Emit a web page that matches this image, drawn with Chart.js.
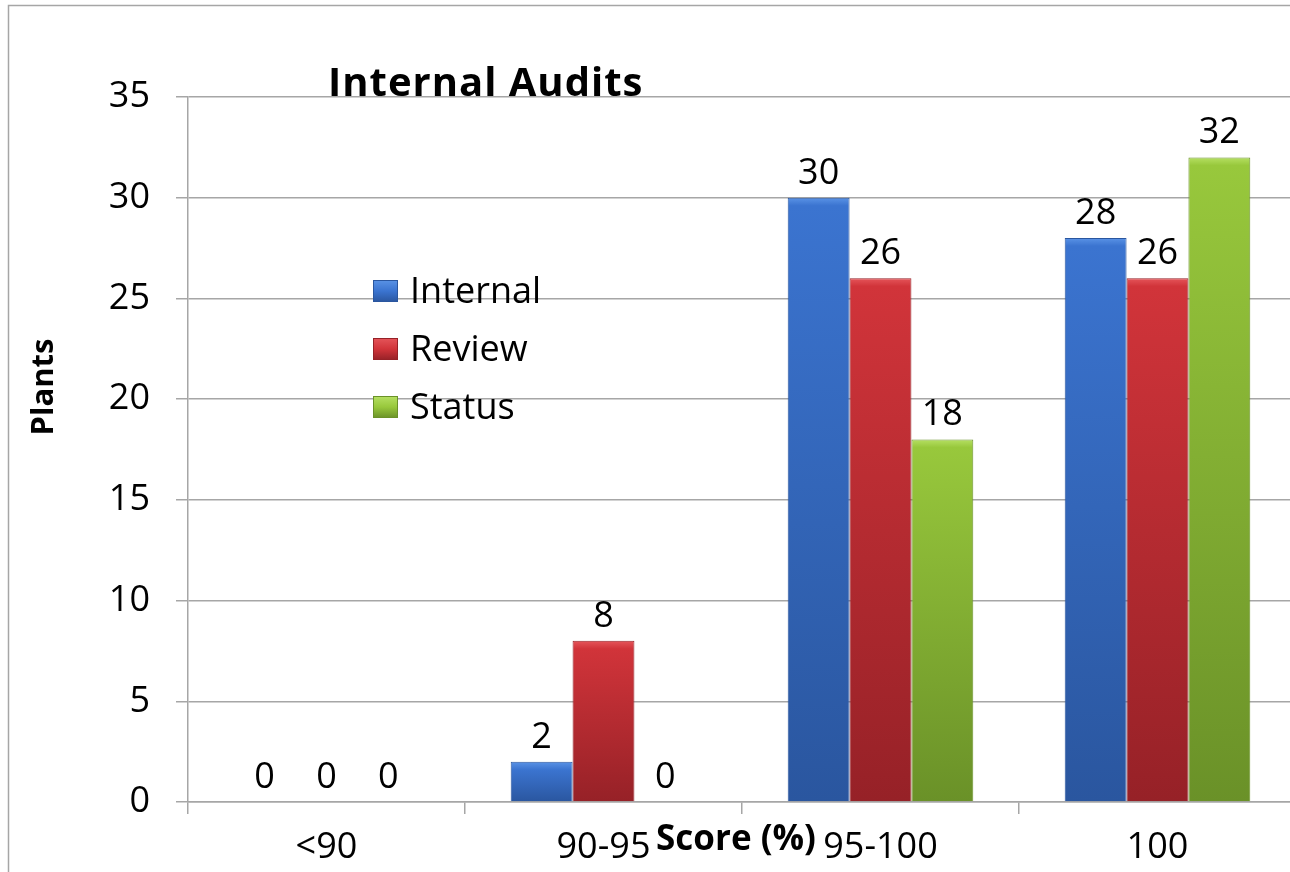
<!DOCTYPE html>
<html>
<head>
<meta charset="utf-8">
<script src="https://cdn.jsdelivr.net/npm/chart.js@4"></script>
<style>
  html, body { margin: 0; padding: 0; background: #fff; overflow: hidden; }
  #wrap { position: absolute; left: 0; top: 0; width: 1300px; height: 872px; }
</style>
</head>
<body>
<div id="wrap"><canvas id="auditChart" width="1300" height="872"></canvas></div>
<script>
// data
const categories = ['<90', '90-95', '95-100', '100'];
const internalValues = [0, 2, 30, 28];
const reviewValues = [0, 8, 26, 26];
const statusValues = [0, 0, 18, 32];
const yTicks = [0, 5, 10, 15, 20, 25, 30, 35];

const FONT = '"Open Sans", "DejaVu Sans", sans-serif';

// barvy: [horni, stred, spodni]
const palette = {
    Internal: ['#5a93e6', '#3b74d0', '#2a569f'],
    Review:   ['#e5555a', '#d1343a', '#962127'],
    Status:   ['#b6e063', '#98c83c', '#6a9128']
};

function barGradient(ctx, stops) {
    const chart = ctx.chart;
    const area = chart.chartArea;
    if (!area || ctx.parsed === undefined) return stops[1];
    const yScale = chart.scales.y;
    const top = yScale.getPixelForValue(ctx.parsed.y);
    const bottom = yScale.getPixelForValue(0);
    if (bottom - top < 2) return stops[1];
    const g = chart.ctx.createLinearGradient(0, top, 0, bottom);
    g.addColorStop(0, stops[0]);
    g.addColorStop(Math.min(0.5, 8 / (bottom - top)), stops[1]);
    g.addColorStop(1, stops[2]);
    return g;
}

function makeDataset(label, values) {
    const stops = palette[label];
    return {
        label: label,
        data: values,
        backgroundColor: ctx => barGradient(ctx, stops),
        borderColor: stops[2],
        borderWidth: 1,
        borderSkipped: 'bottom'
    };
}

// popisky nad sloupci, legenda, titulky
const decorPlugin = {
    id: 'decor',
    beforeDraw(chart) {
        const ctx = chart.ctx;
        ctx.save();
        ctx.fillStyle = '#fff';
        ctx.fillRect(0, 0, chart.width, chart.height);
        // ramecek kolem grafu
        ctx.strokeStyle = '#a6a6a6';
        ctx.lineWidth = 1.5;
        ctx.beginPath();
        ctx.moveTo(8.5, chart.height);
        ctx.lineTo(8.5, 5.5);
        ctx.lineTo(chart.width, 5.5);
        ctx.stroke();
        ctx.restore();
    },
    afterDatasetsDraw(chart) {
        const ctx = chart.ctx;
        ctx.save();
        ctx.fillStyle = '#000';
        ctx.font = '36px ' + FONT;
        ctx.textAlign = 'center';
        ctx.textBaseline = 'alphabetic';
        chart.data.datasets.forEach((ds, i) => {
            const meta = chart.getDatasetMeta(i);
            meta.data.forEach((bar, j) => {
                ctx.fillText(String(ds.data[j]), bar.x, bar.y - 14);
            });
        });
        ctx.restore();
    },
    afterDraw(chart) {
        const ctx = chart.ctx;
        ctx.save();

        // nadpis
        ctx.fillStyle = '#000';
        ctx.font = 'bold 40px ' + FONT;
        ctx.letterSpacing = '1px';
        ctx.textAlign = 'left';
        ctx.textBaseline = 'alphabetic';
        ctx.fillText('Internal Audits', 328, 96);
        ctx.letterSpacing = '0px';

        // legenda uvnitr grafu
        ctx.font = '36px ' + FONT;
        ctx.textBaseline = 'middle';
        chart.data.datasets.forEach((ds, i) => {
            const stops = palette[ds.label];
            const cy = 291 + i * 58;
            const g = ctx.createLinearGradient(0, cy - 11, 0, cy + 11);
            g.addColorStop(0, stops[0]);
            g.addColorStop(0.5, stops[1]);
            g.addColorStop(1, stops[2]);
            ctx.fillStyle = g;
            ctx.fillRect(373, cy - 11, 25, 22);
            ctx.strokeStyle = stops[2];
            ctx.lineWidth = 1;
            ctx.strokeRect(373.5, cy - 10.5, 24, 21);
            ctx.fillStyle = '#000';
            ctx.fillText(ds.label, 410, cy + 2);
        });

        // osa Y
        ctx.font = 'bold 31px ' + FONT;
        ctx.textAlign = 'center';
        ctx.textBaseline = 'middle';
        ctx.translate(44, 387);
        ctx.rotate(-Math.PI / 2);
        ctx.fillText('Plants', 0, 0);
        ctx.restore();

        // osa X
        ctx.save();
        ctx.fillStyle = '#000';
        ctx.font = 'bold 35px ' + FONT;
        ctx.textAlign = 'center';
        ctx.textBaseline = 'alphabetic';
        ctx.fillText('Score (%)', 736, 850);
        ctx.restore();
    }
};

const ctx = document.getElementById('auditChart').getContext('2d');
new Chart(ctx, {
    type: 'bar',
    data: {
        labels: categories,
        datasets: [
            makeDataset('Internal', internalValues),
            makeDataset('Review', reviewValues),
            makeDataset('Status', statusValues)
        ]
    },
    options: {
        responsive: false,
        animation: false,
        layout: { padding: { top: 97, right: 4, left: 0, bottom: 0 } },
        categoryPercentage: 0.67,
        barPercentage: 1.0,
        plugins: {
            legend: { display: false },
            title: { display: false },
            tooltip: { enabled: false }
        },
        scales: {
            x: {
                offset: true,
                grid: {
                    offset: true,
                    drawOnChartArea: false,
                    drawTicks: true,
                    tickLength: 12,
                    color: '#a6a6a6',
                    lineWidth: 1.5
                },
                border: { display: true, color: '#a6a6a6', width: 1.5 },
                ticks: {
                    color: '#000',
                    font: { family: FONT, size: 36 },
                    padding: 12,
                    maxRotation: 0
                },
                afterFit: s => { s.height = 70; }
            },
            y: {
                min: 0,
                max: 35,
                afterBuildTicks: s => { s.ticks = yTicks.map(v => ({ value: v })); },
                grid: {
                    color: '#a6a6a6',
                    lineWidth: 1.5,
                    tickLength: 12
                },
                border: { display: true, color: '#a6a6a6', width: 1.5 },
                ticks: {
                    color: '#000',
                    font: { family: FONT, size: 36 },
                    padding: 26
                },
                afterFit: s => { s.width = 188; }
            }
        }
    },
    plugins: [decorPlugin]
});
</script>
</body>
</html>
